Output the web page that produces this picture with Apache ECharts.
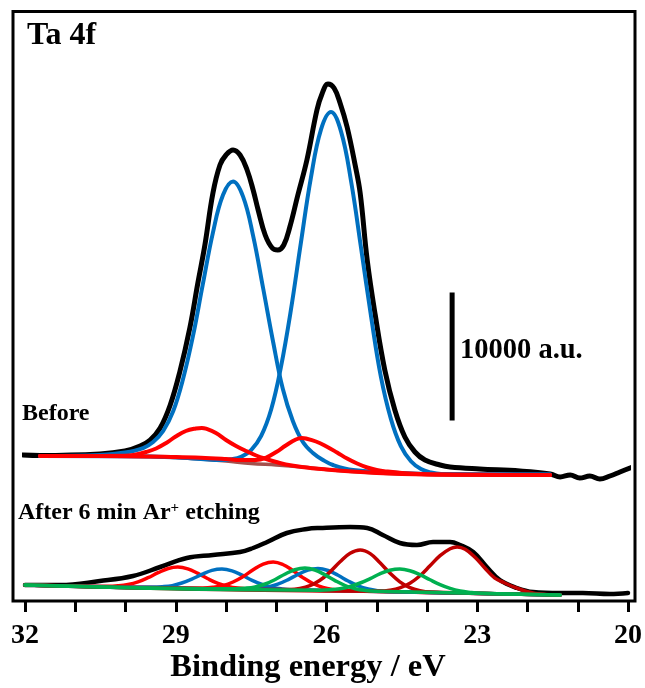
<!DOCTYPE html>
<html>
<head>
<meta charset="utf-8">
<script src="https://cdn.jsdelivr.net/npm/echarts@6/dist/echarts.min.js"></script>
<style>
html,body{margin:0;padding:0;background:#fff;}
#chart{width:645px;height:688px;}
</style>
</head>
<body>
<div id="chart"></div>
<script>
// ---- x tick labels (binding energy, eV) ----
const xTickLabels = ['32', '29', '26', '23', '20'];

// ---- "Before" spectrum: [binding energy eV, intensity a.u.] ----
const beforeMeasured = [[32.04,11406],[31.70,11367],[30.51,11484],[30.01,11719],[29.71,12109],[29.51,12578],[29.31,13516],[29.11,15313],[28.92,17891],[28.72,21328],[28.56,24844],[28.42,27813],[28.26,31875],[28.12,34063],[28.00,34844],[27.86,35234],[27.72,34844],[27.58,33672],[27.46,32109],[27.36,30547],[27.22,28594],[27.08,27578],[26.97,27422],[26.85,27813],[26.73,29219],[26.57,31719],[26.39,34453],[26.19,38359],[26.09,39609],[25.97,40391],[25.85,40078],[25.73,38906],[25.59,37031],[25.43,34063],[25.33,31875],[25.19,26641],[25.03,22344],[24.84,18047],[24.64,14922],[24.44,12813],[24.24,11641],[24.04,11016],[23.74,10625],[23.54,10469],[22.95,10313],[22.15,10156],[21.55,9922],[21.35,9688],[21.15,9844],[20.96,9609],[20.76,9766],[20.56,9531],[20.36,9766],[20.16,10078],[19.86,10547]];
const beforeBackground = [[31.70,11328],[29.51,11289],[29.00,11211],[28.50,11094],[28.00,10938],[27.50,10742],[27.00,10625],[26.49,10469],[26.00,10273],[25.49,10117],[25.00,10000],[24.50,9922],[24.00,9883],[21.55,9844]];
const beforeBlue1 = [[31.70,11328],[30.51,11406],[30.01,11602],[29.65,11953],[29.45,12422],[29.25,13281],[29.05,14844],[28.86,17266],[28.66,20648],[28.46,24773],[28.26,28781],[28.06,31711],[27.86,32773],[27.66,31594],[27.46,28531],[27.26,24414],[27.06,20195],[26.87,16578],[26.67,14063],[26.47,12422],[26.27,11563],[26.07,11016],[25.87,10625],[25.47,10234],[24.54,10000],[23.54,9898],[21.55,9883]];
const beforeBlue2 = [[31.70,11328],[29.51,11289],[28.50,11094],[28.10,11023],[27.90,11070],[27.70,11258],[27.50,11789],[27.30,12898],[27.10,14977],[26.91,18211],[26.71,22703],[26.51,27977],[26.31,33078],[26.11,36828],[25.91,38203],[25.71,36672],[25.51,32773],[25.31,27523],[25.11,22148],[24.92,17570],[24.72,14250],[24.52,12094],[24.32,10914],[24.12,10305],[23.92,10039],[23.72,9922],[21.55,9883]];
const beforeRed1 = [[31.70,11328],[30.01,11344],[29.79,11445],[29.59,11641],[29.39,11914],[29.19,12344],[29.00,12852],[28.80,13281],[28.60,13477],[28.48,13516],[28.40,13461],[28.20,13125],[28.00,12578],[27.80,12109],[27.60,11719],[27.40,11367],[27.20,11094],[27.00,10859],[26.81,10664],[26.49,10469],[26.00,10273],[25.49,10117],[25.00,10000],[24.50,9922],[24.00,9883],[21.55,9844]];
const beforeRed2 = [[31.70,11328],[30.01,11313],[29.00,11250],[28.50,11195],[28.00,11094],[27.70,11016],[27.40,11016],[27.20,11211],[27.00,11641],[26.81,12148],[26.61,12617],[26.49,12734],[26.41,12695],[26.21,12461],[26.00,12070],[25.79,11602],[25.59,11133],[25.39,10742],[25.19,10430],[25.00,10234],[24.80,10117],[24.50,10000],[24.00,9906],[23.00,9859],[21.55,9844]];

// ---- "After 6 min Ar+ etching" spectrum ----
const afterMeasured = [[32.00,1250],[31.30,1250],[30.51,1563],[29.85,1953],[29.31,2656],[28.78,3359],[28.26,3594],[27.72,3828],[27.46,4141],[27.18,4609],[26.79,5313],[26.39,5625],[26.13,5703],[25.53,5781],[25.19,5703],[24.88,5156],[24.54,4531],[24.20,4375],[23.88,4609],[23.54,4609],[23.34,4375],[23.08,3828],[22.81,2656],[22.55,1641],[22.21,1016],[21.89,703],[21.35,625],[20.90,625],[20.36,547],[20.00,625]];
const afterRedA = [[32.00,1250],[30.35,1148],[30.15,1188],[29.95,1289],[29.75,1492],[29.55,1820],[29.35,2211],[29.15,2539],[28.96,2656],[28.76,2516],[28.56,2156],[28.36,1734],[28.16,1375],[27.96,1141],[27.76,1008],[27.56,945],[21.35,469]];
const afterBlueA = [[32.00,1250],[29.47,1086],[29.27,1117],[29.07,1203],[28.88,1406],[28.68,1711],[28.48,2078],[28.28,2391],[28.08,2500],[27.88,2359],[27.68,2016],[27.48,1617],[27.28,1289],[27.08,1063],[26.89,945],[26.69,883],[21.35,469]];
const afterRedB = [[32.00,1250],[28.46,1023],[28.26,1070],[28.06,1203],[27.86,1484],[27.66,1914],[27.46,2438],[27.26,2883],[27.06,3047],[26.87,2852],[26.67,2383],[26.47,1828],[26.27,1367],[26.07,1055],[25.87,891],[25.67,813],[21.35,469]];
const afterGreenA = [[32.00,1250],[27.82,961],[27.62,1000],[27.42,1102],[27.22,1328],[27.02,1680],[26.83,2094],[26.63,2445],[26.43,2578],[26.23,2422],[26.03,2039],[25.83,1594],[25.63,1211],[25.43,961],[25.23,828],[25.03,766],[21.35,469]];
const afterBlueB = [[32.00,1250],[27.56,945],[27.36,984],[27.16,1094],[26.97,1313],[26.77,1656],[26.57,2070],[26.37,2414],[26.17,2539],[25.97,2383],[25.77,2008],[25.57,1563],[25.37,1188],[25.17,938],[24.98,805],[24.78,734],[21.35,469]];
const afterDarkRedA = [[32.00,1250],[26.73,906],[26.53,984],[26.33,1195],[26.13,1617],[25.93,2273],[25.73,3063],[25.53,3727],[25.33,3984],[25.13,3703],[24.94,3008],[24.74,2188],[24.54,1500],[24.34,1047],[24.14,805],[23.94,695],[21.35,469]];
const afterGreenB = [[32.00,1250],[26.13,844],[25.93,875],[25.73,961],[25.53,1133],[25.33,1406],[25.13,1750],[24.94,2117],[24.74,2398],[24.54,2500],[24.34,2367],[24.14,2055],[23.94,1656],[23.74,1281],[23.54,984],[23.34,781],[23.14,672],[22.95,609],[21.35,469]];
const afterDarkRedB = [[32.00,1250],[24.94,773],[24.74,844],[24.54,1023],[24.34,1383],[24.14,1969],[23.94,2750],[23.74,3539],[23.54,4086],[23.40,4219],[23.24,4039],[23.04,3398],[22.85,2578],[22.65,1789],[22.45,1406],[22.25,1055],[22.05,781],[21.85,586],[21.59,484],[21.35,469]];

// ---- intensity scale bar: 10000 a.u. ----
const scaleBar = [[23.5,14100],[23.5,24100]];
const scaleBarLabel = '10000 a.u.';

const SERIF = '"Liberation Serif", "Times New Roman", Times, serif';
const BLACK = '#000000', BLUE = '#0070c0', RED = '#ff0000', DARKRED = '#c00000', GREEN = '#00b050', BROWN = '#a4504c';

function line(name, data, color, width, extra) {
  return Object.assign({
    name: name, type: 'line', data: data, smooth: 0.4, showSymbol: false, symbol: 'none',
    lineStyle: { color: color, width: width, cap: 'round', join: 'round' },
    itemStyle: { color: color }, silent: true
  }, extra || {});
}

const chart = echarts.init(document.getElementById('chart'), null, { renderer: 'canvas' });
chart.setOption({
  animation: false,
  backgroundColor: '#ffffff',
  grid: { left: 25, right: 17, top: 11, bottom: 87, containLabel: false, outerBoundsMode: 'none' },
  xAxis: {
    type: 'value', min: 20, max: 32, interval: 1, inverse: true,
    axisLine: { show: false },
    axisTick: { show: true, inside: false, length: 11, lineStyle: { color: '#000', width: 3 } },
    splitLine: { show: false },
    axisLabel: {
      margin: 21, color: '#000', fontFamily: SERIF, fontWeight: 'bold', fontSize: 28,
      formatter: function (v) { const s = String(Math.round(v)); return xTickLabels.indexOf(s) >= 0 ? s : ''; }
    }
  },
  yAxis: { type: 'value', min: 0, max: 46094, show: false },
  series: [
    line('before-measured', beforeMeasured, BLACK, 5, { clip: false }),
    line('before-background', beforeBackground, BROWN, 3.5),
    line('before-blue1', beforeBlue1, BLUE, 4),
    line('before-blue2', beforeBlue2, BLUE, 4),
    line('before-red1', beforeRed1, RED, 4),
    line('before-red2', beforeRed2, RED, 4),
    line('after-measured', afterMeasured, BLACK, 4.5, { clip: false }),
    line('after-redA', afterRedA, RED, 3.5),
    line('after-blueA', afterBlueA, BLUE, 3.5),
    line('after-redB', afterRedB, RED, 3.5),
    line('after-blueB', afterBlueB, BLUE, 3.5),
    line('after-darkredA', afterDarkRedA, DARKRED, 3.5),
    line('after-darkredB', afterDarkRedB, DARKRED, 3.5),
    line('after-greenA', afterGreenA, GREEN, 3.5),
    line('after-greenB', afterGreenB, GREEN, 3.5),
    { name: 'scale', type: 'line', data: scaleBar, showSymbol: false, symbol: 'none',
      lineStyle: { color: '#000', width: 5, cap: 'butt' }, silent: true }
  ],
  graphic: [
    { type: 'rect', shape: { x: 13, y: 11.5, width: 622, height: 589.5 },
      style: { fill: 'none', stroke: '#000', lineWidth: 3 }, z: 100, silent: true },
    { type: 'text', x: 27, y: 36, z: 100, silent: true,
      style: { text: 'Ta 4f', font: 'bold 32px ' + SERIF, fill: '#000', align: 'left', verticalAlign: 'middle' } },
    { type: 'text', x: 22, y: 414, z: 100, silent: true,
      style: { text: 'Before', font: 'bold 24px ' + SERIF, fill: '#000', align: 'left', verticalAlign: 'middle' } },
    { type: 'text', x: 18, y: 513, z: 100, silent: true,
      style: { text: '{a|After 6 min Ar}{b|+}{a| etching}', fill: '#000', align: 'left', verticalAlign: 'middle',
        rich: { a: { fontFamily: SERIF, fontWeight: 'bold', fontSize: 24, fill: '#000' },
                b: { fontFamily: SERIF, fontWeight: 'bold', fontSize: 15, fill: '#000', verticalAlign: 'top' } } } },
    { type: 'text', x: 460, y: 351, z: 100, silent: true,
      style: { text: scaleBarLabel, font: 'bold 28.5px ' + SERIF, fill: '#000', align: 'left', verticalAlign: 'middle' } },
    { type: 'text', x: 308, y: 668, z: 100, silent: true,
      style: { text: 'Binding energy / eV', font: 'bold 32.5px ' + SERIF, fill: '#000', align: 'center', verticalAlign: 'middle' } }
  ]
});
</script>
</body>
</html>
